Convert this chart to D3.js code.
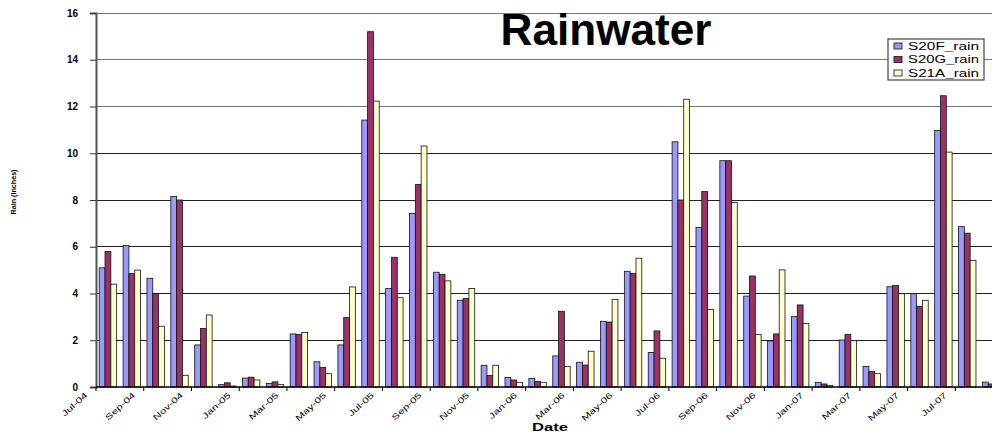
<!DOCTYPE html>
<html>
<head>
<meta charset="utf-8">
<script src="https://cdn.jsdelivr.net/npm/d3@7/dist/d3.min.js"></script>
<style>
  html, body { margin: 0; padding: 0; background: #fff; overflow: hidden; }
  svg { display: block; font-family: "Liberation Sans", Arial, sans-serif; }
</style>
</head>
<body>
<svg id="chart" width="992" height="432"></svg>
<script>
// ---- data ----
const months = ["Jul-04","Aug-04","Sep-04","Oct-04","Nov-04","Dec-04",
  "Jan-05","Feb-05","Mar-05","Apr-05","May-05","Jun-05",
  "Jul-05","Aug-05","Sep-05","Oct-05","Nov-05","Dec-05",
  "Jan-06","Feb-06","Mar-06","Apr-06","May-06","Jun-06",
  "Jul-06","Aug-06","Sep-06","Oct-06","Nov-06","Dec-06",
  "Jan-07","Feb-07","Mar-07","Apr-07","May-07","Jun-07",
  "Jul-07","Aug-07"];
const seriesNames = ["S20F_rain", "S20G_rain", "S21A_rain"];
const s20f = [5.1, 6.05, 4.65, 8.15, 1.8, 0.1, 0.38, 0.15, 2.27, 1.08, 1.8, 11.42,
  4.22, 7.43, 4.91, 3.71, 0.93, 0.41, 0.37, 1.33, 1.06, 2.81, 4.95, 1.48,
  10.49, 6.83, 9.68, 3.89, 1.97, 3.01, 0.2, 2.01, 0.88, 4.29, 3.99, 10.97,
  6.86, 0.21];
const s20g = [5.8, 4.85, 4.0, 8.0, 2.5, 0.18, 0.42, 0.22, 2.25, 0.84, 2.97, 15.2,
  5.55, 8.67, 4.82, 3.79, 0.49, 0.3, 0.24, 3.24, 0.94, 2.78, 4.86, 2.4,
  8.0, 8.36, 9.68, 4.75, 2.27, 3.51, 0.13, 2.25, 0.67, 4.34, 3.45, 12.46,
  6.58, 0.13];
const s21a = [4.4, 5.0, 2.6, 0.5, 3.08, 0.04, 0.3, 0.1, 2.33, 0.57, 4.28, 12.23,
  3.82, 10.31, 4.54, 4.21, 0.93, 0.2, 0.2, 0.88, 1.53, 3.75, 5.51, 1.23,
  12.31, 3.32, 7.89, 2.25, 5.01, 2.72, 0.07, 1.98, 0.57, 3.99, 3.71, 10.05,
  5.42, 0.1];
const yTicks = [0, 2, 4, 6, 8, 10, 12, 14, 16];
const colors = ["#9999FF", "#993366", "#FFFFCC"];
const titleText = "Rainwater";
const xTitle = "Date";
const yTitle = "Rain (inches)";

// ---- layout ----
const plotLeft = 96, plotTop = 13, plotBottom = 387;
const step = 23.87;
const plotRight = plotLeft + months.length * step;

const svg = d3.select("#chart");

const x0 = d3.scaleBand().domain(months).range([plotLeft, plotRight])
  .paddingInner(0.27).paddingOuter(0.135);
const x1 = d3.scaleBand().domain(seriesNames).range([0, x0.bandwidth()]);
const y = d3.scaleLinear().domain([0, 16]).range([plotBottom, plotTop]);

// gridlines
svg.append("g").selectAll("line").data(yTicks.filter(d => d > 0)).join("line")
  .attr("x1", plotLeft).attr("x2", plotRight)
  .attr("y1", d => y(d)).attr("y2", d => y(d))
  .attr("stroke", d => d >= 12 ? "#777" : "#222").attr("stroke-width", 1)
  .attr("shape-rendering", "crispEdges");

// bars
const seriesData = [s20f, s20g, s21a];
const gBars = svg.append("g");
seriesData.forEach((vals, si) => {
  gBars.append("g").selectAll("rect").data(vals).join("rect")
    .attr("x", (d, i) => x0(months[i]) + x1(seriesNames[si]))
    .attr("width", x1.bandwidth())
    .attr("y", d => y(d))
    .attr("height", d => y(0) - y(d))
    .attr("fill", colors[si])
    .attr("stroke", "#111")
    .attr("stroke-width", 0.8);
});

// y axis
const yAxis = d3.axisLeft(y).tickValues(yTicks).tickSize(6).tickPadding(12)
  .tickFormat(d3.format("d"));
const gy = svg.append("g").attr("transform", `translate(${plotLeft},0)`).call(yAxis);
gy.select(".domain").attr("stroke", "#555").attr("stroke-width", 2);
gy.selectAll(".tick line").attr("stroke", "#333");
gy.selectAll(".tick text").attr("font-size", 10).attr("font-weight", "bold")
  .attr("font-family", "Liberation Sans, Arial, sans-serif").attr("fill", "#000");

// x axis
svg.append("line").attr("x1", plotLeft).attr("x2", plotRight)
  .attr("y1", plotBottom).attr("y2", plotBottom).attr("stroke", "#000").attr("stroke-width", 1.5);
const tickIdx = months.map((m, i) => i).filter(i => i % 2 === 0);
const tickX = i => x0(months[i]) - (x0.step() - x0.bandwidth()) / 2;
svg.append("g").selectAll("line").data(tickIdx).join("line")
  .attr("x1", i => tickX(i)).attr("x2", i => tickX(i))
  .attr("y1", plotBottom).attr("y2", plotBottom + 4)
  .attr("stroke", "#000").attr("stroke-width", 1);
svg.append("g").selectAll("text").data(tickIdx).join("text")
  .attr("transform", i => `translate(${tickX(i) - 10},${plotBottom + 7}) rotate(-42) scale(1.2,0.85)`)
  .attr("text-anchor", "end")
  .attr("dy", "0.35em")
  .attr("font-size", 9.5)
  .text(i => months[i]);

// axis titles
svg.append("text").attr("x", 550).attr("y", 431)
  .attr("text-anchor", "middle").attr("font-size", 10).attr("font-weight", "bold")
  .attr("textLength", 36).attr("lengthAdjust", "spacingAndGlyphs")
  .text(xTitle);
svg.append("text").attr("transform", "translate(16,192) rotate(-90)")
  .attr("text-anchor", "middle").attr("font-size", 7).attr("font-weight", "bold")
  .attr("textLength", 45).attr("lengthAdjust", "spacingAndGlyphs")
  .text(yTitle);

// title
svg.append("text").attr("x", 606).attr("y", 45)
  .attr("text-anchor", "middle").attr("font-size", 44).attr("font-weight", "bold")
  .attr("textLength", 211).attr("lengthAdjust", "spacingAndGlyphs")
  .text(titleText);

// legend
const lg = svg.append("g").attr("transform", "translate(888,39)");
lg.append("rect").attr("width", 96).attr("height", 41)
  .attr("fill", "#fff").attr("stroke", "#444").attr("stroke-width", 1.2);
seriesNames.forEach((name, i) => {
  const row = lg.append("g").attr("transform", `translate(0,${7 + i * 13.5})`);
  row.append("rect").attr("x", 6).attr("y", -3).attr("width", 8).attr("height", 6)
    .attr("fill", colors[i]).attr("stroke", "#111").attr("stroke-width", 0.8);
  row.append("text").attr("x", 20).attr("y", 0).attr("dy", "0.35em")
    .attr("font-size", 10).attr("textLength", 71).attr("lengthAdjust", "spacingAndGlyphs")
    .text(name);
});
</script>
</body>
</html>
